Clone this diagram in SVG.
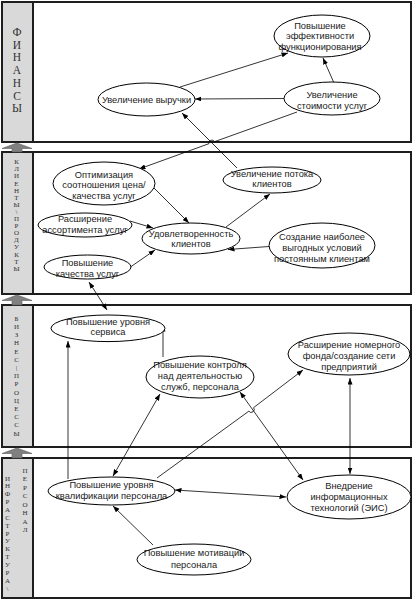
<svg xmlns="http://www.w3.org/2000/svg" width="414" height="600" viewBox="0 0 414 600">
<style>
.panel{fill:#fff;stroke:#1e1e1e;stroke-width:2}
.strip{fill:#d9d9d9;stroke:#1e1e1e;stroke-width:2}
.bigarrow{fill:#808080;stroke:#5a5a5a;stroke-width:0.6}
.lbl{font-family:"Liberation Serif","DejaVu Serif",serif;fill:#333;text-anchor:middle}
.node ellipse{fill:#fff;stroke:#000;stroke-width:1}
.node text{font-family:"Liberation Sans",Arial,sans-serif;font-size:9.3px;fill:#1a1a1a;text-anchor:middle}
.c{fill:none;stroke:#000;stroke-width:0.8}
.ae{marker-end:url(#ah)}
.ab{marker-end:url(#ah);marker-start:url(#ah)}
</style>
<defs>
<marker id="ah" markerUnits="userSpaceOnUse" markerWidth="7" markerHeight="5" refX="6.5" refY="2.5" orient="auto-start-reverse">
<path d="M0,0 L6.5,2.5 L0,5 z" fill="#000"/>
</marker>
</defs>
<rect width="414" height="600" fill="#fff"/>
<g id="panels">
<rect class="panel" x="2" y="2" width="409" height="140"/>
<rect class="strip" x="2" y="2" width="31" height="140"/>
<rect class="panel" x="2" y="152" width="409" height="142"/>
<rect class="strip" x="2" y="152" width="31" height="142"/>
<rect class="panel" x="2" y="305" width="409" height="142"/>
<rect class="strip" x="2" y="305" width="31" height="142"/>
<rect class="panel" x="2" y="458" width="409" height="140"/>
<rect class="strip" x="2" y="458" width="31" height="140"/>
<polygon class="bigarrow" points="17,143 32,148.5 22,148.5 22,152 12,152 12,148.5 2,148.5"/>
<polygon class="bigarrow" points="17,295 32,300.5 22,300.5 22,305 12,305 12,300.5 2,300.5"/>
<polygon class="bigarrow" points="17,448 32,453.5 22,453.5 22,458 12,458 12,453.5 2,453.5"/>
</g>
<g id="strip-labels">
<text class="lbl" font-size="11.5"><tspan x="17" y="36">Ф</tspan><tspan x="17" y="48.7">И</tspan><tspan x="17" y="61.4">Н</tspan><tspan x="17" y="74.1">А</tspan><tspan x="17" y="86.8">Н</tspan><tspan x="17" y="99.5">С</tspan><tspan x="17" y="112.2">Ы</tspan></text>
<text class="lbl" font-size="7"><tspan x="16.5" y="164.2">К</tspan><tspan x="16.5" y="171.3">Л</tspan><tspan x="16.5" y="178.4">И</tspan><tspan x="16.5" y="185.5">Е</tspan><tspan x="16.5" y="192.6">Н</tspan><tspan x="16.5" y="199.7">Т</tspan><tspan x="16.5" y="206.8">Ы</tspan><tspan x="16.5" y="213.9">\</tspan><tspan x="16.5" y="221">П</tspan><tspan x="16.5" y="228.1">Р</tspan><tspan x="16.5" y="235.2">О</tspan><tspan x="16.5" y="242.3">Д</tspan><tspan x="16.5" y="249.4">У</tspan><tspan x="16.5" y="256.5">К</tspan><tspan x="16.5" y="263.6">Т</tspan><tspan x="16.5" y="270.7">Ы</tspan></text>
<text class="lbl" font-size="7"><tspan x="16.5" y="320.8">Б</tspan><tspan x="16.5" y="329">И</tspan><tspan x="16.5" y="337.2">З</tspan><tspan x="16.5" y="345.4">Н</tspan><tspan x="16.5" y="353.6">Е</tspan><tspan x="16.5" y="361.8">С</tspan><tspan x="16.5" y="370">|</tspan><tspan x="16.5" y="378.2">П</tspan><tspan x="16.5" y="386.4">Р</tspan><tspan x="16.5" y="394.6">О</tspan><tspan x="16.5" y="402.8">Ц</tspan><tspan x="16.5" y="411">Е</tspan><tspan x="16.5" y="419.2">С</tspan><tspan x="16.5" y="427.4">С</tspan><tspan x="16.5" y="435.6">Ы</tspan></text>
<text class="lbl" font-size="7"><tspan x="7.5" y="480.5">И</tspan><tspan x="7.5" y="488.4">Н</tspan><tspan x="7.5" y="496.2">Ф</tspan><tspan x="7.5" y="504.1">Р</tspan><tspan x="7.5" y="512">А</tspan><tspan x="7.5" y="519.8">С</tspan><tspan x="7.5" y="527.7">Т</tspan><tspan x="7.5" y="535.5">Р</tspan><tspan x="7.5" y="543.4">У</tspan><tspan x="7.5" y="551.3">К</tspan><tspan x="7.5" y="559.1">Т</tspan><tspan x="7.5" y="567">У</tspan><tspan x="7.5" y="574.8">Р</tspan><tspan x="7.5" y="582.7">А</tspan><tspan x="7.5" y="590.6">\</tspan></text>
<text class="lbl" font-size="7"><tspan x="25" y="472.5">П</tspan><tspan x="25" y="481">Е</tspan><tspan x="25" y="489.5">Р</tspan><tspan x="25" y="498">С</tspan><tspan x="25" y="506.5">О</tspan><tspan x="25" y="515">Н</tspan><tspan x="25" y="523.5">А</tspan><tspan x="25" y="532">Л</tspan></text>
</g>
<g id="connectors">
<path class="c ae" d="M180,87 L288,53"/>
<path class="c ae" d="M334,83 L323,58"/>
<path class="c ae" d="M284,98.5 L195,99"/>
<path class="c ae" d="M297,112 L214.5,141.7 A3,3 0 0 0 208.9,143.7 L139,169"/>
<path class="c ae" d="M237,168 L182,113"/>
<path class="c ae" d="M152,186 L189,223"/>
<path class="c ae" d="M130,221 L153,228"/>
<path class="c ae" d="M129,268 L155,250"/>
<path class="c ae" d="M226,227 L270,194"/>
<path class="c ae" d="M269,246.5 L228,249.5"/>
<path class="c ab" d="M89,282 L107,310"/>
<path class="c ae" d="M163,357 L163,325"/>
<path class="c ae" d="M68,479 L68,341"/>
<path class="c ab" d="M113,476 L160,394"/>
<path class="c ae" d="M157,478 L248.8,411.2 A3,3 0 0 0 253.6,407.6 L303,370"/>
<path class="c ab" d="M240,392 L303,480"/>
<path class="c ab" d="M350,378 L350,474"/>
<path class="c ab" d="M175,490 L286,497"/>
<path class="c ae" d="M153,545 L113,506"/>
</g>
<g id="n-effekt" class="node"><ellipse cx="322" cy="36" rx="48" ry="21"/><text><tspan x="320" y="28.5">Повышение</tspan><tspan x="320" y="39">эффективности</tspan><tspan x="320" y="49.5">функционирования</tspan></text></g>
<g id="n-vyruchka" class="node"><ellipse cx="146.5" cy="99.5" rx="48.5" ry="16.5"/><text x="146.5" y="103">Увеличение выручки</text></g>
<g id="n-stoimost" class="node"><ellipse cx="332" cy="98.5" rx="48" ry="16.5"/><text><tspan x="332" y="98.3">Увеличение</tspan><tspan x="332" y="108.5">стоимости услуг</tspan></text></g>
<g id="n-optim" class="node"><ellipse cx="104" cy="183.5" rx="51" ry="21.5"/><text><tspan x="104" y="177.5">Оптимизация</tspan><tspan x="104" y="188.3">соотношения цена/</tspan><tspan x="104" y="199">качества услуг</tspan></text></g>
<g id="n-assort" class="node"><ellipse cx="85" cy="225" rx="47" ry="12"/><text><tspan x="85" y="221.5">Расширение</tspan><tspan x="85" y="233">ассортимента услуг</tspan></text></g>
<g id="n-kach" class="node"><ellipse cx="87.5" cy="267" rx="43.5" ry="12"/><text><tspan x="87.5" y="265.5">Повышение</tspan><tspan x="87.5" y="277">качества услуг</tspan></text></g>
<g id="n-udovl" class="node"><ellipse cx="191" cy="238.5" rx="49" ry="15.5"/><text><tspan x="191" y="236.5">Удовлетворенность</tspan><tspan x="191" y="247.3">клиентов</tspan></text></g>
<g id="n-potok" class="node"><ellipse cx="272" cy="180" rx="49" ry="13"/><text><tspan x="272" y="176.5">Увеличение потока</tspan><tspan x="272" y="186.8">клиентов</tspan></text></g>
<g id="n-sozd" class="node"><ellipse cx="322" cy="245.5" rx="53" ry="22.5"/><text><tspan x="322" y="240">Создание наиболее</tspan><tspan x="322" y="251">выгодных условий</tspan><tspan x="322" y="261.8">постоянным клиентам</tspan></text></g>
<g id="n-servis" class="node"><ellipse cx="108" cy="328.3" rx="57" ry="13.3"/><text><tspan x="108" y="325">Повышение уровня</tspan><tspan x="108" y="335.2">сервиса</tspan></text></g>
<g id="n-kontrol" class="node"><ellipse cx="200" cy="377" rx="54" ry="21"/><text><tspan x="200" y="367.5">Повышение контроля</tspan><tspan x="200" y="378.5">над деятельностью</tspan><tspan x="200" y="389.5">служб, персонала</tspan></text></g>
<g id="n-fond" class="node"><ellipse cx="349" cy="354" rx="61" ry="21"/><text><tspan x="349" y="348.3">Расширение номерного</tspan><tspan x="349" y="359.3">фонда/создание сети</tspan><tspan x="349" y="370">предприятий</tspan></text></g>
<g id="n-kvalif" class="node"><ellipse cx="111.5" cy="491" rx="63.5" ry="14"/><text><tspan x="111.5" y="488.3">Повышение уровня</tspan><tspan x="111.5" y="498.7">квалификации персонала</tspan></text></g>
<g id="n-it" class="node"><ellipse cx="349" cy="497" rx="62" ry="22"/><text><tspan x="349" y="489">Внедрение</tspan><tspan x="349" y="500">информационных</tspan><tspan x="349" y="511">технологий (ЭИС)</tspan></text></g>
<g id="n-motiv" class="node"><ellipse cx="194" cy="559.5" rx="57" ry="15.5"/><text><tspan x="194" y="556.3">Повышение мотивации</tspan><tspan x="194" y="568">персонала</tspan></text></g>
</svg>
